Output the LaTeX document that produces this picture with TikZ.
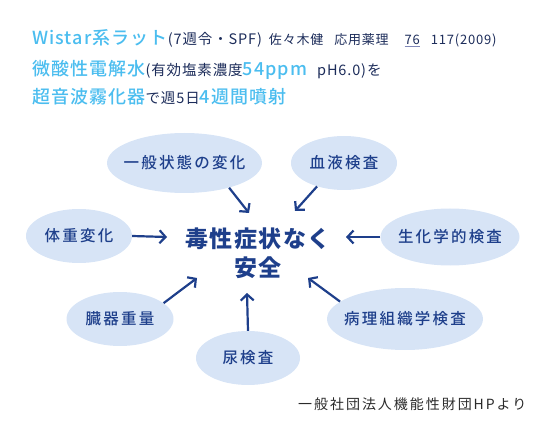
\documentclass[tikz,border=0pt]{standalone}
\usepackage{fontspec}
\setmainfont{Noto Sans CJK JP}[LetterSpace=6]
\newfontfamily\medfont{Noto Sans CJK JP Medium}[LetterSpace=6]
\usetikzlibrary{shapes.geometric,arrows.meta}

\definecolor{skyblue}{HTML}{4BBDEF}
\definecolor{deepnavy}{HTML}{1C2C5A}
\definecolor{labelblue}{HTML}{1E3F8B}
\definecolor{bubblefill}{HTML}{D7E4F6}
\definecolor{rulegray}{HTML}{8088B8}
\definecolor{footgray}{HTML}{2A2A2A}

\newcommand{\skytext}[1]{{\fontsize{18}{20}\medfont\color{skyblue}#1}}
\newcommand{\midtext}[1]{{\fontsize{14.5}{18}\selectfont\color{deepnavy}#1}}
\newcommand{\smalltext}[1]{{\fontsize{14.5}{16}\selectfont\color{deepnavy}#1}}
\newcommand{\tinytext}[1]{{\fontsize{13}{16}\selectfont\color{deepnavy}#1}}

\tikzset{
  bubble/.style={ellipse, fill=bubblefill, text=labelblue, inner xsep=-20pt, inner ysep=0pt,
    font=\fontsize{15.5}{18}\medfont\addfontfeature{LetterSpace=14}},
  toward/.style={draw=labelblue, line width=2.2pt,
    -{Straight Barb[length=6pt,width=13pt,line width=2.2pt]}},
}

\begin{document}
\begin{tikzpicture}[x=1pt,y=-1pt]
    \useasboundingbox (0,0) rectangle (542,428);

    % Header
    \node[anchor=base west, inner sep=0pt] (head1) at (32,45)
        {\skytext{Wistar系ラット}\midtext{(7週令・SPF)}\hspace{7pt}\tinytext{佐々木健\hspace{11pt}応用薬理\hspace{16pt}\textcolor{rulegray}{\underline{\textcolor{deepnavy}{76}}}\hspace{11pt}117(2009)}};
    \node[anchor=base west, inner sep=0pt] (head2) at (32,76)
        {\skytext{微酸性電解水}\smalltext{(有効塩素濃度}\skytext{54ppm}\hspace{10pt}\smalltext{pH6.0)を}};
    \node[anchor=base west, inner sep=0pt] (head3) at (32,104)
        {\skytext{超音波霧化器}\smalltext{で週5日}\skytext{4週間噴射}};

    % Result
    \node[text=labelblue, font=\fontsize{23}{29}\bfseries, align=center] (safe) at (258,253)
        {毒性症状なく\\安全};

    % Checks
    \node[bubble, minimum width=155pt, minimum height=60pt] (ippan) at (184.5,163) {一般状態の変化};
    \node[bubble, minimum width=106pt, minimum height=54pt] (ketsueki) at (344,163) {血液検査};
    \node[bubble, minimum width=106pt, minimum height=54pt] (taiju) at (79,236) {体重変化};
    \node[bubble, minimum width=139pt, minimum height=57pt] (seika) at (450,237) {生化学的検査};
    \node[bubble, minimum width=107pt, minimum height=54pt] (zouki) at (120,319) {臓器重量};
    \node[bubble, minimum width=104pt, minimum height=54pt] (nyou) at (248,358) {尿検査};
    \node[bubble, minimum width=156pt, minimum height=62pt] (byouri) at (405,319) {病理組織学検査};

    % Arrow tips
    \coordinate (tipA) at (249,213);
    \coordinate (tipB) at (295,211);
    \coordinate (tipC) at (167,237);
    \coordinate (tipD) at (346,237);
    \coordinate (tipE) at (197,278);
    \coordinate (tipF) at (247,293);
    \coordinate (tipG) at (308,278);

    \foreach \src/\tip in {ippan.-29/tipA, ketsueki.-139/tipB, taiju.0/tipC, seika.180/tipD,
        zouki.20/tipE, nyou.90/tipF, byouri.165/tipG} {
        \draw[toward] (\src) -- (\tip);
    }

    % Source
    \node[anchor=base west, inner sep=0pt, text=footgray,
        font=\fontsize{14}{16}\selectfont\addfontfeature{LetterSpace=14}] (source) at (298,409)
        {一般社団法人機能性財団HPより};
\end{tikzpicture}
\end{document}
